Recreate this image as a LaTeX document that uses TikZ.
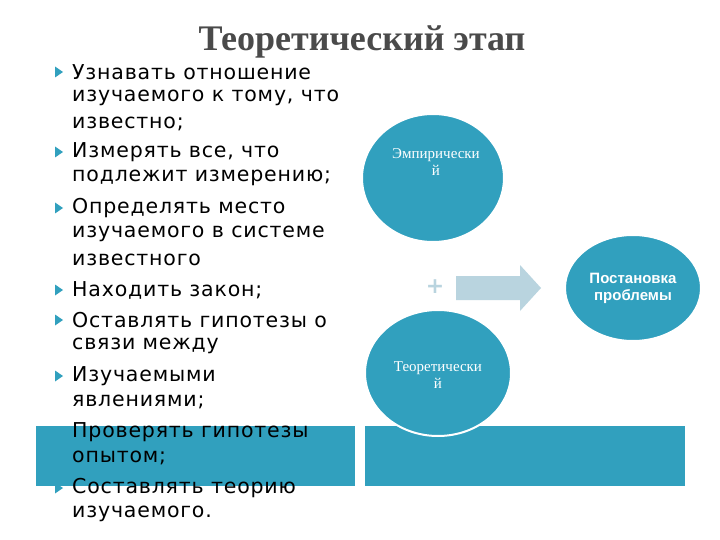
\documentclass[tikz,border=0pt]{standalone}
\usepackage{fontspec}
\setmainfont{DejaVu Sans}[LetterSpace=4]
\newfontfamily\serifb{Liberation Serif}
\newfontfamily\sansb{Liberation Sans}
\usetikzlibrary{shapes.geometric,shapes.arrows}
\definecolor{teal}{HTML}{31A0BE}
\definecolor{lightar}{HTML}{B9D4DF}
\definecolor{titlegray}{HTML}{4A4A4A}
\begin{document}
\begin{tikzpicture}[x=1pt,y=-1pt,
  line/.style={anchor=west,inner sep=0pt,font=\fontsize{20.5}{22}\selectfont},
  blob/.style={ellipse,fill=teal,draw=white,line width=2pt,minimum width=#1},
  bar/.style={fill=teal}]
\useasboundingbox (0,0) rectangle (720,540);
\fill[white] (0,0) rectangle (720,540);
\fill[bar] (36,426) rectangle (355,486);
\fill[bar] (365,426) rectangle (685,486);
\node[font=\serifb\bfseries\fontsize{36}{38}\selectfont,text=titlegray] (title) at (362,42) {Теоретический этап};
\foreach \y/\t [count=\i] in {72/Узнавать отношение,98/{изучаемого к тому, что},124/известно;,152/{Измерять все, что},178/подлежит измерению;,208/Определять место,234/изучаемого в системе,260/известного,290/Находить закон;,320/Оставлять гипотезы о,346/связи между,376/Изучаемыми,402/явлениями;,432/Проверять гипотезы,458/опытом;,488/Составлять теорию,514/изучаемого.}
  \node[line] (l\i) at (72,\y) {\t};
\foreach \y [count=\i] in {72,152,208,290,320,376,432,488}
  \fill[teal] (55,\y-5.5) -- (63,\y) -- (55,\y+5.5) -- cycle;
\node[blob=142pt,minimum height=128pt] (emp) at (433,178) {};
\node[text=white,font=\serifb\fontsize{15}{17}\selectfont,align=center] (empt) at (436,162) {Эмпирически\\й};
\node[blob=146pt,minimum height=126pt] (teo) at (438,373) {};
\node[text=white,font=\serifb\fontsize{15}{17}\selectfont,align=center] (teot) at (438,375) {Теоретически\\й};
\node[blob=136pt,minimum height=106pt,font=\sansb\bfseries\fontsize{15}{17}\selectfont,text=white,align=center] (post) at (633,288) {Постановка\\проблемы};
\node[text=lightar,font=\bfseries\fontsize{22}{22}\selectfont] (plus) at (435,287) {+};
\fill[lightar] (456,276) -- (520,276) -- (520,265) -- (541,288) -- (520,311) -- (520,300) -- (456,300) -- cycle;
\end{tikzpicture}
\end{document}
